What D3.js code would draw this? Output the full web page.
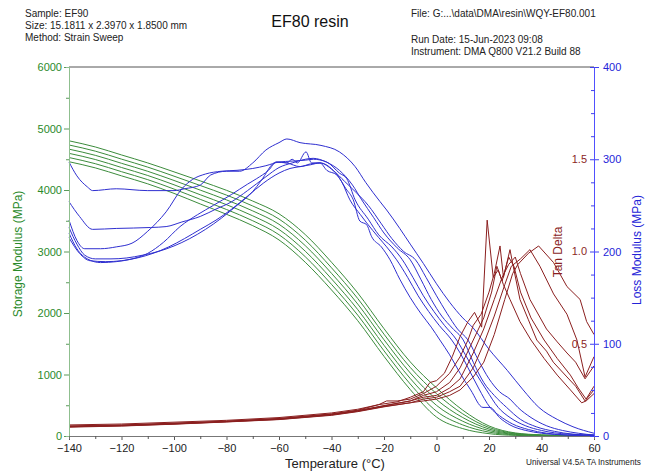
<!DOCTYPE html>
<html><head><meta charset="utf-8">
<script src="https://cdn.jsdelivr.net/npm/d3@7"></script>
<style>body{margin:0;background:#fff}text{font-family:"Liberation Sans",Arial,sans-serif}</style>
</head><body><svg id="c" width="647" height="471"></svg>
<script>
// ---------- data ----------
const tempTicks = [-140,-120,-100,-80,-60,-40,-20,0,20,40,60];
const storageTicks = [0,1000,2000,3000,4000,5000,6000];
const lossTicks = [0,100,200,300,400];
const tanTicks = [0.5,1.0,1.5];

const storageTemps = [-140,-130,-120,-110,-100,-90,-80,-70,-60,-50,-40,-30,-20,-10,0,10,20,30,40,50,60];
const storage1 = [4800,4700,4570,4440,4295,4148,3995,3820,3613,3275,2825,2325,1745,1205,783,420,163,50,18,6,3];
const storage2 = [4732,4632,4502,4372,4225,4073,3917,3740,3528,3185,2735,2235,1655,1115,688,360,138,42,15,5,3];
const storage3 = [4664,4564,4434,4304,4155,3998,3839,3660,3443,3095,2645,2145,1565,1025,593,300,113,34,12,4,2];
const storage4 = [4596,4496,4366,4236,4085,3923,3761,3580,3358,3005,2555,2055,1475,935,498,240,88,26,8,3,2];
const storage5 = [4528,4428,4298,4168,4015,3848,3683,3500,3273,2915,2465,1965,1385,845,403,180,63,18,5,2,1];
const storage6 = [4460,4360,4230,4100,3945,3773,3605,3420,3188,2825,2375,1875,1295,755,308,120,38,10,2,1,1];

// loss modulus [temperature, MPa]
const loss1 = [[-140,297],[-137,282],[-133,270],[-131,266],[-122,268],[-110,266],[-100,266],[-96,268],[-90,272],[-86,283],[-80,287],[-75,287],[-70,296],[-65,310],[-60,318],[-57,322],[-52,318],[-44,315],[-37,308],[-31,292],[-27,275],[-21.5,254],[-19,245],[-14,225],[-10,208],[-5,187],[0,165],[5,145],[10,128],[14,117],[20,94],[27,71],[33,50],[39,31],[46,18],[52,10],[60,3]];
const loss2 = [[-140,254],[-136,238],[-131,224],[-122,225],[-109,226],[-103,227],[-97,232],[-90,238],[-84,246],[-78,254],[-72,266],[-65,281],[-60,291],[-55,296],[-50,300],[-47,301],[-42,297],[-37,288],[-32,272],[-28.5,256],[-24,237],[-20,220],[-15,204],[-10,191],[-6,170],[-2,148],[2,130],[6,117],[10.2,104],[14,80],[18,58],[22,44],[26.7,31],[32,18],[38,10],[45,5],[52,2],[60,1]];
const loss3 = [[-140,234],[-137,212],[-134,203],[-128,203],[-122,205],[-116,209],[-110,222],[-103,243],[-97,268],[-93,278],[-88,284],[-82,287],[-76,288],[-70,290],[-65,293],[-60,297],[-55,298],[-50,299],[-46.9,300],[-41.8,297],[-37,285],[-34.2,279],[-31,256],[-26,235],[-22,218],[-17,205],[-13,191],[-9,172],[-5,152],[-1,135],[3,120],[7.7,104],[11,88],[15,68],[19,50],[23.5,31],[28,20],[34,11],[40,6],[50,2],[60,1]];
const loss4 = [[-140,226],[-137,208],[-134,196],[-130,192],[-124,192],[-118,193],[-112,196],[-106,200],[-100,206],[-94,214],[-88,224],[-82,236],[-76,250],[-70,265],[-67,276],[-61,297],[-57,296],[-55,300],[-53,296],[-49.7,308],[-47.6,296],[-44.4,296],[-41.8,288],[-38,283],[-34.5,268],[-31.7,256],[-29.2,233],[-26.6,229],[-24.7,216],[-21,205],[-17.7,191],[-14,170],[-10,150],[-6,133],[-2,118],[1.3,104],[5,88],[9,68],[13,50],[17.7,31],[20.4,31],[24,20],[28,12],[34,6],[40,3],[50,1],[60,0]];
const loss5 = [[-140,220],[-137,203],[-133,192],[-128,188],[-122,189],[-116,192],[-110,198],[-104,210],[-97.7,227],[-91,240],[-85,250],[-78,262],[-72,273],[-68.5,279],[-64,288],[-60.9,297],[-57,296],[-52,292],[-48,295],[-44.4,296],[-39.4,288],[-36,275],[-33,256],[-29,240],[-26.6,231],[-22,215],[-19,205],[-15.2,191],[-11,172],[-7,152],[-3,135],[1,120],[5.8,104],[9,90],[12,74],[16,52],[20.4,31],[24,22],[29,13],[35,7],[42,3],[50,1],[60,0]];
const loss6 = [[-140,215],[-136,198],[-132,190],[-126,189],[-120,190],[-114,193],[-108,198],[-102,205],[-96,214],[-90,224],[-84,234],[-78,246],[-72,260],[-66,274],[-60,285],[-55.8,290],[-52,292],[-48,294],[-44.4,296],[-39.4,288],[-35,276],[-31,265],[-26,250],[-21,230],[-17,214],[-12.5,200],[-8,191],[-4,172],[0,152],[4,133],[8,116],[12,104],[16,82],[20,62],[24,48],[28,40],[31,31],[36,20],[42,11],[48,6],[54,3],[60,1]];

// tan delta [temperature, tan]
const tan1 = [[-140,0.06],[-120,0.065],[-100,0.075],[-80,0.085],[-60,0.1],[-40,0.125],[-30,0.145],[-22,0.17],[-15,0.185],[-10,0.21],[-5,0.24],[-2.5,0.29],[0,0.3],[3,0.34],[6,0.43],[9,0.54],[12,0.62],[14.5,0.67],[17.2,0.59],[19.3,1.17],[21.6,0.86],[23.5,0.9],[25.5,0.82],[28,0.74],[31.8,0.62],[36,0.52],[41,0.42],[46,0.33],[51,0.25],[55.3,0.18],[57,0.19],[60,0.23]];
const tan2 = [[-140,0.055],[-120,0.06],[-100,0.07],[-80,0.08],[-60,0.095],[-40,0.12],[-30,0.14],[-22,0.17],[-19,0.19],[-15,0.19],[-10,0.2],[-5,0.23],[0,0.27],[5,0.34],[9,0.43],[12,0.52],[14,0.6],[17,0.66],[20,0.78],[22,0.88],[24.2,1.03],[25.5,0.86],[28,1.01],[29.5,0.9],[31.8,0.74],[35,0.63],[38.2,0.52],[41.9,0.46],[44.5,0.4],[49.7,0.32],[53,0.27],[56.6,0.19],[60,0.25]];
const tan3 = [[-140,0.05],[-120,0.058],[-100,0.068],[-80,0.08],[-60,0.094],[-40,0.118],[-30,0.138],[-20,0.165],[-10,0.19],[-5,0.22],[0,0.24],[5,0.29],[9,0.37],[14,0.52],[18,0.64],[21,0.78],[23,0.92],[25,0.84],[27.5,0.97],[29.5,0.92],[32,0.78],[36,0.64],[41,0.52],[46,0.42],[51,0.33],[54,0.26],[57,0.2],[60,0.27]];
const tan4 = [[-140,0.052],[-120,0.057],[-100,0.066],[-80,0.078],[-60,0.092],[-40,0.116],[-30,0.136],[-20,0.163],[-10,0.19],[-5,0.21],[0,0.22],[5,0.26],[9,0.31],[14,0.45],[18,0.58],[22,0.74],[25,0.86],[27.5,0.93],[30,0.97],[32,0.88],[35.6,0.74],[41.9,0.58],[46,0.51],[49.7,0.45],[53,0.4],[56.6,0.31],[60,0.38]];
const tan5 = [[-140,0.05],[-120,0.055],[-100,0.065],[-80,0.077],[-60,0.09],[-40,0.114],[-30,0.134],[-20,0.16],[-10,0.18],[-5,0.2],[0,0.21],[5,0.24],[9,0.27],[14,0.37],[18,0.5],[22,0.65],[26,0.82],[28.5,0.92],[32,0.96],[35.6,1.01],[39.4,0.92],[44.6,0.77],[49.7,0.66],[53.5,0.52],[56.6,0.32],[60,0.43]];
const tan6 = [[-140,0.048],[-120,0.054],[-100,0.064],[-80,0.076],[-60,0.089],[-40,0.112],[-30,0.132],[-20,0.158],[-10,0.18],[-5,0.19],[0,0.2],[5,0.22],[9,0.25],[14,0.32],[18,0.4],[22,0.55],[26,0.74],[29,0.88],[31,0.93],[35,0.99],[38.9,1.03],[44.6,0.94],[49.7,0.81],[54.7,0.74],[57.2,0.62],[60,0.55]];

// ---------- layout ----------
const L = 69, R = 594, T = 67, B = 436;
const GREEN = "#3c8c3c", GREEN_TXT = "#2a8a2a", BLUE = "#2f2fd0", BLUE_TXT = "#2424d8", RED = "#8b1f1f";

const svg = d3.select("#c");
const x = d3.scaleLinear().domain([-140,60]).range([L,R]);
const yS = d3.scaleLinear().domain([0,6000]).range([B,T]);
const yL = d3.scaleLinear().domain([0,400]).range([B,T]);
const yT = d3.scaleLinear().domain([0,2]).range([B,T]);

// header
const hdr = svg.append("g").attr("font-size", 10).attr("fill", "#222");
hdr.append("text").attr("x", 25).attr("y", 17).text("Sample: EF90");
hdr.append("text").attr("x", 25).attr("y", 29).text("Size:  15.1811 x 2.3970 x 1.8500 mm");
hdr.append("text").attr("x", 25).attr("y", 41).text("Method: Strain Sweep");
hdr.append("text").attr("x", 411).attr("y", 17).text("File: G:...\\data\\DMA\\resin\\WQY-EF80.001");
hdr.append("text").attr("x", 411).attr("y", 43).text("Run Date: 15-Jun-2023 09:08");
hdr.append("text").attr("x", 411).attr("y", 55).text("Instrument: DMA Q800 V21.2 Build 88");
svg.append("text").attr("x", 310).attr("y", 27).attr("text-anchor", "middle")
  .attr("font-size", 16).attr("fill", "#111").text("EF80 resin");

// frame top
svg.append("line").attr("x1", L).attr("x2", R).attr("y1", T).attr("y2", T).attr("stroke", "#555").attr("stroke-width", 1);

// curves
const lineS = d3.line().x((d,i) => x(storageTemps[i])).y(d => yS(d)).curve(d3.curveMonotoneX);
[storage1,storage2,storage3,storage4,storage5,storage6].forEach(s => {
  svg.append("path").attr("d", lineS(s)).attr("fill","none").attr("stroke", GREEN).attr("stroke-width", 1);
});
const lineL = d3.line().x(d => x(d[0])).y(d => yL(d[1])).curve(d3.curveMonotoneX);
[loss1,loss2,loss3,loss4,loss5,loss6].forEach(s => {
  svg.append("path").attr("d", lineL(s)).attr("fill","none").attr("stroke", BLUE).attr("stroke-width", 1);
});
const lineT = d3.line().x(d => x(d[0])).y(d => yT(d[1])).curve(d3.curveLinear);
[tan1,tan2,tan3,tan4,tan5,tan6].forEach(s => {
  svg.append("path").attr("d", lineT(s)).attr("fill","none").attr("stroke", RED).attr("stroke-width", 1);
});

// left axis
const gl = svg.append("g").attr("transform", `translate(${L},0)`);
gl.call(d3.axisLeft(yS).tickValues(storageTicks).tickSize(5).tickPadding(2).tickFormat(d3.format("d")));
gl.call(g => g.append("g").call(d3.axisLeft(yS).tickValues([500,1500,2500,3500,4500,5500]).tickSize(3).tickFormat("")));
gl.selectAll("path.domain").attr("stroke", "#8fbf8f");
gl.selectAll(".tick line").attr("stroke", "#5a9a5a");
gl.selectAll("text").attr("fill", GREEN_TXT).attr("font-size", 11).attr("font-family", "Liberation Sans, Arial");

// bottom axis
const gb = svg.append("g").attr("transform", `translate(0,${B})`);
gb.call(d3.axisBottom(x).tickValues(tempTicks).tickSize(4).tickPadding(4));
gb.call(g => g.append("g").call(d3.axisBottom(x).tickValues([-130,-110,-90,-70,-50,-30,-10,10,30,50]).tickSize(3).tickFormat("")));
gb.selectAll("path.domain").attr("stroke", "#777");
gb.selectAll(".tick line").attr("stroke", "#555");
gb.selectAll("text").attr("fill", "#222").attr("font-size", 11).attr("font-family", "Liberation Sans, Arial");

// right axis
const gr = svg.append("g").attr("transform", `translate(${R},0)`);
gr.call(d3.axisRight(yL).tickValues(lossTicks).tickSize(5).tickPadding(4));
gr.selectAll(".tick line").attr("x1", -4);
const minorL = d3.range(25, 400, 25).filter(v => v % 100 !== 0);
gr.call(g => g.append("g").call(d3.axisRight(yL).tickValues(minorL).tickSize(1).tickFormat("")).selectAll(".tick line").attr("x1", -3));
gr.selectAll("path.domain").attr("stroke", "#5050ff");
gr.selectAll(".tick line").attr("stroke", "#4040ee");
gr.selectAll("text").attr("fill", BLUE_TXT).attr("font-size", 11).attr("font-family", "Liberation Sans, Arial");

// tan delta labels (inside)
svg.append("g").selectAll("text").data(tanTicks).join("text")
  .attr("x", R - 7).attr("y", d => yT(d)).attr("dy", "0.35em").attr("text-anchor", "end")
  .attr("font-size", 11).attr("fill", RED).text(d => d3.format(".1f")(d));

// titles
svg.append("text").attr("transform", "translate(22,254) rotate(-90)").attr("text-anchor", "middle")
  .attr("font-size", 12).attr("fill", GREEN_TXT).text("Storage Modulus (MPa)");
svg.append("text").attr("transform", "translate(641,250) rotate(-90)").attr("text-anchor", "middle")
  .attr("font-size", 12).attr("fill", BLUE_TXT).text("Loss Modulus (MPa)");
svg.append("text").attr("transform", "translate(562,252) rotate(-90)").attr("text-anchor", "middle")
  .attr("font-size", 12).attr("fill", RED).text("Tan Delta");
svg.append("text").attr("x", 335).attr("y", 468).attr("text-anchor", "middle")
  .attr("font-size", 13).attr("fill", "#222").text("Temperature (°C)");
svg.append("text").attr("x", 526).attr("y", 465)
  .attr("font-size", 8.2).attr("fill", "#222")
  .text("Universal V4.5A TA Instruments");
</script></body></html>
